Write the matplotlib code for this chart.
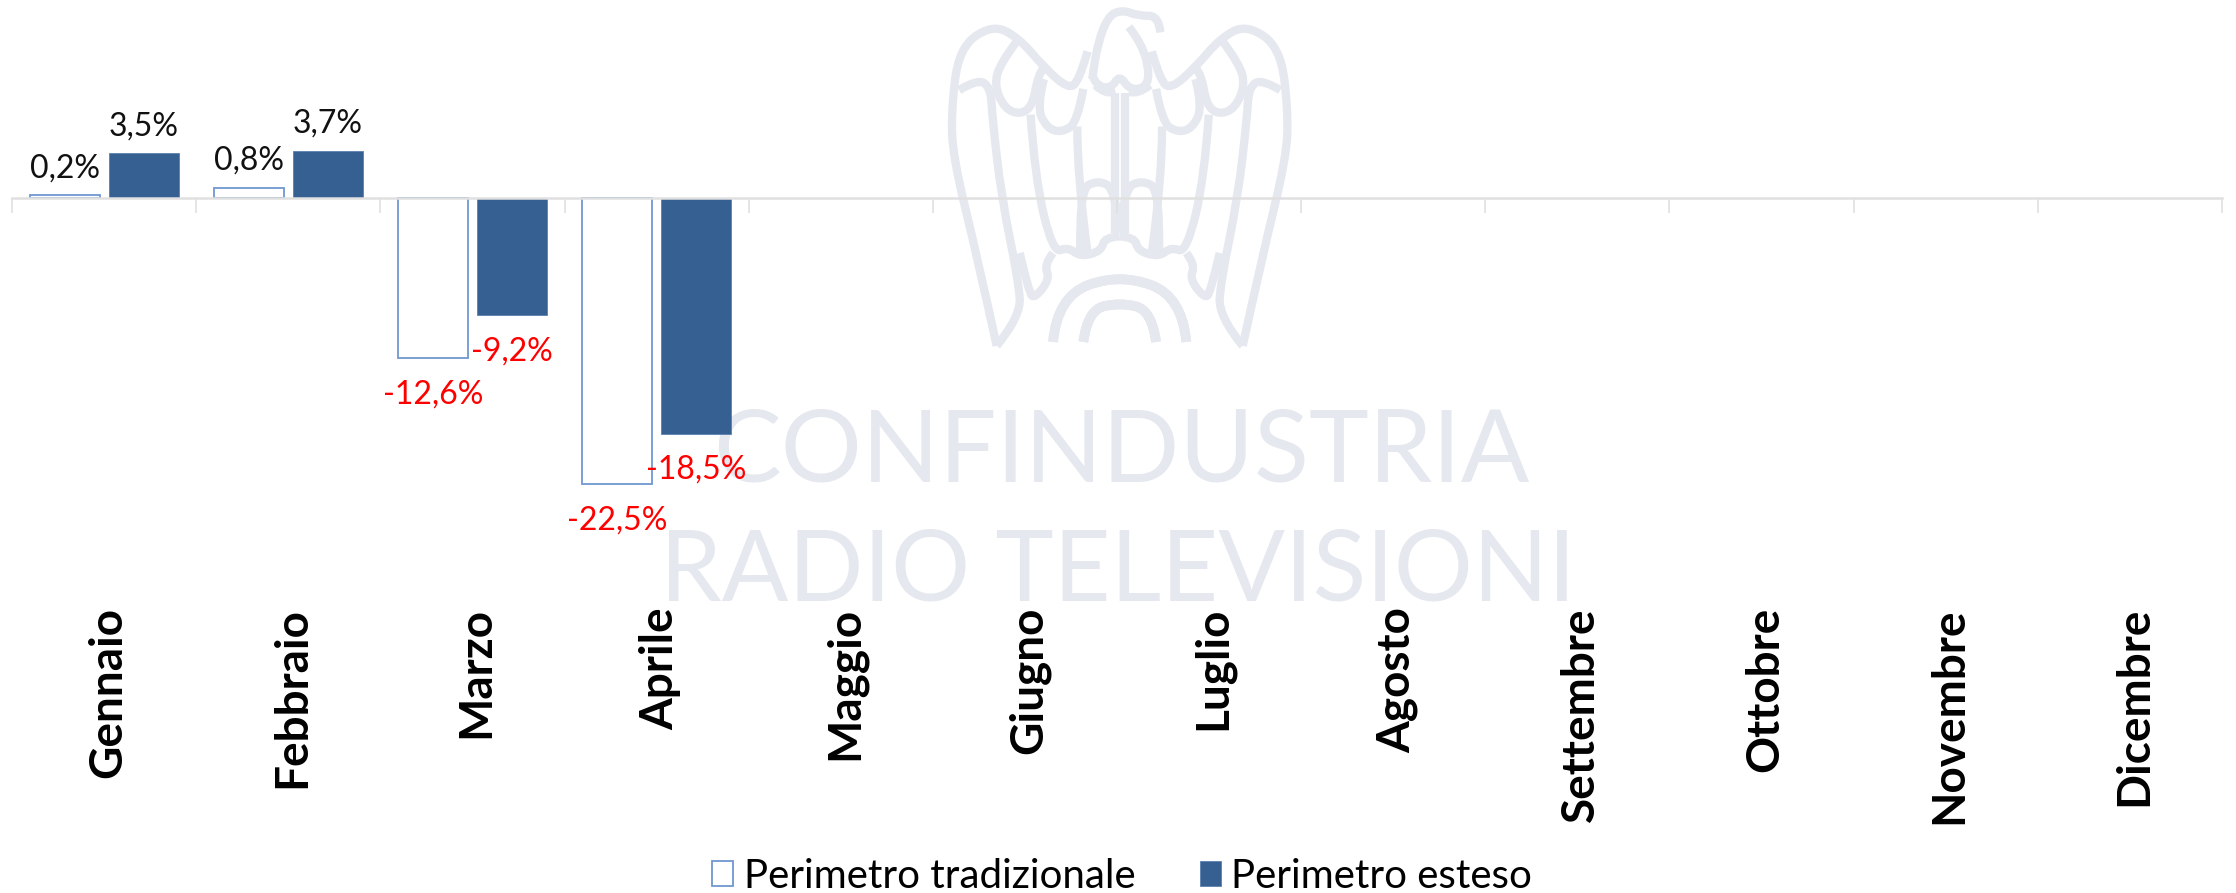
import numpy as np
import matplotlib
matplotlib.use("Agg")
import matplotlib.pyplot as plt
from matplotlib.path import Path
from matplotlib.patches import PathPatch
from matplotlib.transforms import ScaledTranslation

months = ["Gennaio", "Febbraio", "Marzo", "Aprile", "Maggio", "Giugno", "Luglio",
          "Agosto", "Settembre", "Ottobre", "Novembre", "Dicembre"]
tradizionale = [0.2, 0.8, -12.6, -22.5]
esteso = [3.5, 3.7, -9.2, -18.5]
series_names = ["Perimetro tradizionale", "Perimetro esteso"]

W, H = 2236, 893
NAVY = "#366092"
EDGE = "#6f97d0"
GREY = "#e0e0e0"
WM = "#e5e8ef"
FONT = ["Lato", "DejaVu Sans"]

fig = plt.figure(figsize=(W / 100, H / 100), dpi=100, facecolor="white")

# ---- watermark (logo drawn in pixel space behind the chart) ----
bg = fig.add_axes([0, 0, 1, 1], zorder=-1)
bg.set_xlim(0, W); bg.set_ylim(H, 0); bg.axis("off")

def px(p):
    return (p[0] / 1.65 + 650, p[1] / 2.53)

def stroke(pts, lw=6.0, mirror=True):
    for m in ([False, True] if mirror else [False]):
        q = [px((1550 - x if m else x, y)) for x, y in pts]
        verts = [q[0]]; codes = [Path.MOVETO]
        for i in range(1, len(q) - 1):
            mid = ((q[i][0] + q[i + 1][0]) / 2, (q[i][1] + q[i + 1][1]) / 2)
            if i == len(q) - 2:
                mid = q[-1]
            verts += [q[i], mid]; codes += [Path.CURVE3, Path.CURVE3]
        if len(q) == 2:
            verts.append(q[1]); codes.append(Path.LINETO)
        bg.add_patch(PathPatch(Path(verts, codes), fc="none", ec=WM, lw=lw, capstyle="butt"))

stroke([(572, 875), (540, 650), (500, 400), (497, 280), (510, 120), (565, 62), (608, 95), (650, 170), (690, 225), (708, 205), (722, 130)])
stroke([(572, 875), (612, 800), (608, 710), (580, 500), (565, 300), (562, 220), (540, 200), (510, 228)])
stroke([(605, 105), (578, 160), (568, 215), (585, 275), (612, 290), (632, 265), (640, 190), (650, 170)])
stroke([(628, 290), (635, 450), (665, 640), (690, 625), (710, 650), (745, 635), (750, 600), (775, 598)])
stroke([(650, 200), (638, 270), (655, 325), (680, 335), (705, 310), (715, 225)])
stroke([(705, 320), (705, 450), (722, 640)])
stroke([(665, 640), (650, 670), (660, 705), (635, 755), (625, 740), (610, 640)])
stroke([(665, 865), (672, 750), (775, 692), (878, 750), (885, 865)], lw=7)
stroke([(715, 865), (722, 785), (775, 765), (828, 785), (835, 865)], lw=7)
stroke([(710, 640), (708, 480), (740, 455), (768, 480), (775, 590)])
stroke([(768, 235), (768, 590)], mirror=False)
stroke([(783, 235), (783, 590)], mirror=False)
stroke([(730, 200), (735, 130), (755, 40), (780, 25), (805, 40), (840, 40), (842, 82)], mirror=False)
stroke([(790, 68), (812, 110), (825, 190), (815, 225), (790, 225), (775, 190), (760, 225), (735, 215), (730, 190)], mirror=False)
stroke([(735, 215), (750, 240), (768, 232)], mirror=False)
stroke([(790, 232), (805, 240), (825, 215)], mirror=False)

bg.text(1121, 445, "CONFINDUSTRIA", color=WM, fontsize=73, family=FONT, ha="center", va="center_baseline")
bg.text(1118, 564, "RADIO TELEVISIONI", color=WM, fontsize=71, family=FONT, ha="center", va="center_baseline")

# ---- chart ----
x0, x1 = 12, 2222
y_top, y_bot, y_zero, scale = 20, 500, 198, 12.73
ax = fig.add_axes([x0 / W, 1 - y_bot / H, (x1 - x0) / W, (y_bot - y_top) / H], zorder=1)
ax.patch.set_alpha(0)
ax.set_xlim(-0.5, 11.5)
ax.set_ylim(-(y_bot - y_zero) / scale, (y_zero - y_top) / scale)

bw, off = 0.38, 0.2145
pos = np.arange(len(tradizionale))
b1 = ax.bar(pos - off, tradizionale, bw, facecolor="white", edgecolor=EDGE, linewidth=1.3, label=series_names[0])
b2 = ax.bar(pos + off, esteso, bw, facecolor=NAVY, edgecolor="#5b80b0", linewidth=0.6, label=series_names[1])

for p, vals in ((pos - off, tradizionale), (pos + off, esteso)):
    for xx, v in zip(p, vals):
        s = f"{v:.1f}%".replace(".", ",")
        ax.annotate(s, (xx, v), xytext=(0, (30 if v > 0 else -33.5) * 0.72), textcoords="offset points",
                    ha="center", va="center_baseline", fontsize=23, family=FONT,
                    color="#111111" if v > 0 else "#ff0000", zorder=5)

for side in ("left", "right", "top"):
    ax.spines[side].set_visible(False)
ax.spines["bottom"].set_position(("data", 0))
ax.spines["bottom"].set_color(GREY)
ax.spines["bottom"].set_linewidth(1.8)
ax.set_yticks([])
ax.set_xticks(np.arange(-0.5, 12, 1))
ax.set_xticklabels([])
ax.tick_params(axis="x", which="major", length=15 * 0.72, color=GREY, width=1.2, direction="out")
ax.set_xticks(np.arange(12), months, minor=True)
ax.tick_params(axis="x", which="minor", length=0, pad=(607 - 198) * 0.72, labelrotation=90, labelsize=33)
shift = ScaledTranslation(4 / 100, 0, fig.dpi_scale_trans)
for t in ax.get_xticklabels(minor=True):
    t.set_family(FONT); t.set_weight("bold"); t.set_va("top"); t.set_ha("center")
    t.set_transform(t.get_transform() + shift)

fig.legend(handles=[b1, b2], labels=series_names, loc="center", bbox_to_anchor=(1122 / W, 1 - 876 / H),
           ncol=2, frameon=False, prop={"family": FONT, "size": 29},
           handlelength=0.54, handleheight=0.6, handletextpad=0.25, columnspacing=1.6)

fig.savefig("out.png", dpi=100, facecolor="white")
